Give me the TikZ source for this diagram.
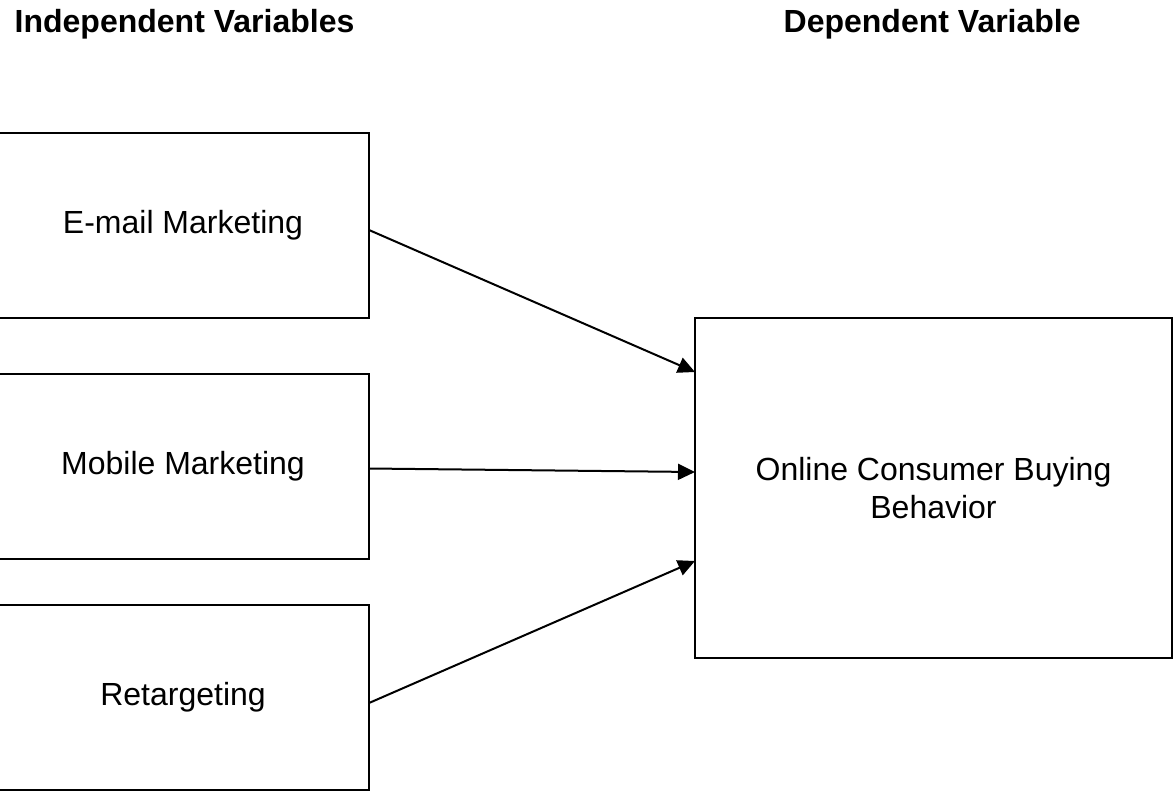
\documentclass[tikz,border=0pt]{standalone}
\usepackage{fontspec}
\setmainfont{Liberation Sans}
\usetikzlibrary{arrows.meta}

\begin{document}
\begin{tikzpicture}[
    x=0.5pt, y=-0.5pt,
    >={Triangle[length=8.5pt, width=8pt]}, line width=1pt,
    every node/.style={font=\fontsize{16pt}{19pt}\selectfont},
    varbox/.style={draw, rectangle, inner sep=0pt, outer sep=0pt, align=center,
        minimum width=186pt, minimum height=92.5pt},
    dvbox/.style={varbox, minimum width=238.5pt, minimum height=170pt},
    heading/.style={anchor=base west, font=\fontsize{16pt}{19pt}\selectfont\bfseries}
]
    \useasboundingbox (0,0) rectangle (1176,791);

    % Headings
    \node[heading] (ivhead) at (7,33) {Independent Variables};
    \node[heading] (dvhead) at (776,33) {Dependent Variable};

    % Independent variables
    \node[varbox] (email) at (183,225.5) {E-mail Marketing};
    \node[varbox] (mobile) at (183,466.5) {Mobile Marketing};
    \node[varbox] (retarget) at (183,697.5) {Retargeting};

    % Dependent variable
    \node[dvbox] (behav) at (933.5,488) {Online Consumer Buying\\Behavior};

    % Arrows
    \path[->]   ([yshift=-2.25pt]email.east) edge ([yshift=58pt]behav.west)
            ([yshift=-1pt]mobile.east) edge ([yshift=8pt]behav.west)
            ([yshift=-2.75pt]retarget.east) edge ([yshift=-36.5pt]behav.west);

\end{tikzpicture}
\end{document}
